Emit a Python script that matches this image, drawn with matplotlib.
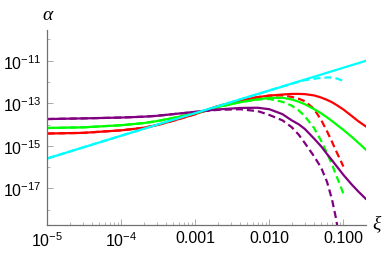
import matplotlib
matplotlib.use("Agg")
import matplotlib.pyplot as plt
import matplotlib.ticker as mticker
import numpy as np

plt.rcParams['font.family'] = ['Liberation Sans', 'DejaVu Sans']
plt.rcParams['mathtext.fontset'] = 'custom'
plt.rcParams['mathtext.rm'] = 'Liberation Sans'
plt.rcParams['mathtext.it'] = 'Liberation Serif:italic'

# xi sample points
xi_grid = [1e-5, 3e-5, 1e-4, 2e-4, 3e-4, 5e-4, 1e-3, 2e-3, 4e-3, 7e-3, 0.01, 0.015,
           0.02, 0.025, 0.03, 0.04, 0.05, 0.06, 0.07, 0.08, 0.1, 0.13, 0.16, 0.2]

# log10(alpha) values
purple_solid = [-13.74, -13.71, -13.67, -13.63, -13.59, -13.51, -13.40, -13.29, -13.22, -13.21,
                -13.28, -13.51, -13.80, -13.99, -14.20, -14.65, -15.02, -15.38, -15.67, -15.93,
                -16.36, -16.82, -17.15, -17.48]
green_solid = [-14.16, -14.13, -14.03, -13.93, -13.84, -13.69, -13.47, -13.18, -12.95, -12.81,
               -12.75, -12.74, -12.82, -12.93, -13.04, -13.27, -13.47, -13.66, -13.83, -13.99,
               -14.25, -14.58, -14.86, -15.17]
red_solid = [-14.42, -14.39, -14.27, -14.15, -14.03, -13.82, -13.51, -13.14, -12.88, -12.71,
             -12.64, -12.59, -12.56, -12.56, -12.57, -12.63, -12.73, -12.84, -12.95, -13.07,
             -13.29, -13.60, -13.85, -14.08]

xi_cyan = [1e-5, 1e-4, 1e-3, 1e-2, 0.1, 0.2]
cyan_solid = [-15.59, -14.52, -13.46, -12.40, -11.33, -11.01]

xi_purple_d = [1e-5, 3e-5, 1e-4, 2e-4, 3e-4, 5e-4, 1e-3, 2e-3, 4e-3, 7e-3, 0.01, 0.015,
               0.02, 0.025, 0.03, 0.04, 0.05, 0.06, 0.07, 0.08, 0.085]
purple_dash = [-13.74, -13.71, -13.67, -13.63, -13.59, -13.51, -13.41, -13.31, -13.28, -13.37,
               -13.55, -13.80, -14.12, -14.48, -14.86, -15.48, -16.02, -16.68, -17.50, -18.45,
               -19.05]

xi_dash = [1e-5, 3e-5, 1e-4, 2e-4, 3e-4, 5e-4, 1e-3, 2e-3, 4e-3, 7e-3, 0.01, 0.015,
           0.02, 0.025, 0.03, 0.04, 0.05, 0.06, 0.07, 0.08, 0.09, 0.1]
green_dash = [-14.16, -14.13, -14.03, -13.93, -13.84, -13.69, -13.47, -13.18, -12.95, -12.82,
              -12.80, -12.93, -13.11, -13.34, -13.60, -14.15, -14.76, -15.33, -15.87, -16.38,
              -16.83, -17.24]
red_dash = [-14.42, -14.39, -14.27, -14.15, -14.03, -13.82, -13.51, -13.14, -12.88, -12.71,
            -12.64, -12.63, -12.70, -12.79, -12.90, -13.26, -13.78, -14.31, -14.80, -15.25,
            -15.63, -15.97]

xi_cyan_d = [1e-5, 1e-4, 1e-3, 1e-2, 0.02, 0.03, 0.04, 0.05, 0.06, 0.07, 0.08, 0.09, 0.1]
cyan_dash = [-15.59, -14.52, -13.46, -12.40, -12.08, -11.92, -11.85, -11.81, -11.79, -11.79,
             -11.83, -11.89, -11.96]

x_tick_vals = [1e-5, 1e-4, 1e-3, 1e-2, 1e-1]
x_tick_labels = [r'$\mathregular{10^{-5}}$', r'$\mathregular{10^{-4}}$', '0.001', '0.010', '0.100']
y_tick_vals = [1e-17, 1e-15, 1e-13, 1e-11]
y_tick_labels = [r'$\mathregular{10^{-17}}$', r'$\mathregular{10^{-15}}$',
                 r'$\mathregular{10^{-13}}$', r'$\mathregular{10^{-11}}$']

fig = plt.figure(figsize=(3.82, 2.55), dpi=100)
ax = fig.add_axes([47.3 / 382, 1 - 225.7 / 255, (365.6 - 47.3) / 382, (225.7 - 31) / 255])

lw = 1.6
dash = (3.2, 1.8)
ax.plot(xi_dash, 10 ** np.array(red_dash), color='#ff0000', lw=lw, dashes=dash)
ax.plot(xi_dash, 10 ** np.array(green_dash), color='#00ff00', lw=lw, dashes=dash)
ax.plot(xi_purple_d, 10 ** np.array(purple_dash), color='#800080', lw=lw, dashes=dash)
ax.plot(xi_cyan_d, 10 ** np.array(cyan_dash), color='#00ffff', lw=lw, dashes=dash)
ax.plot(xi_grid, 10 ** np.array(red_solid), color='#ff0000', lw=lw)
ax.plot(xi_grid, 10 ** np.array(green_solid), color='#00ff00', lw=lw)
ax.plot(xi_grid, 10 ** np.array(purple_solid), color='#800080', lw=lw)
ax.plot(xi_cyan, 10 ** np.array(cyan_solid), color='#00ffff', lw=lw)

ax.set_xscale('log')
ax.set_yscale('log')
ax.set_xlim(1e-5, 10 ** -0.70)
ax.set_ylim(10 ** -18.7, 10 ** -9.56)

ax.xaxis.set_major_locator(mticker.FixedLocator(x_tick_vals))
ax.xaxis.set_major_formatter(mticker.FixedFormatter(x_tick_labels))
ax.xaxis.set_minor_locator(mticker.LogLocator(base=10, subs=np.arange(2, 10)))
ax.xaxis.set_minor_formatter(mticker.NullFormatter())
ax.yaxis.set_major_locator(mticker.FixedLocator(y_tick_vals))
ax.yaxis.set_major_formatter(mticker.FixedFormatter(y_tick_labels))
ax.yaxis.set_minor_locator(mticker.FixedLocator([1e-18, 1e-16, 1e-14, 1e-12, 1e-10]))
ax.yaxis.set_minor_formatter(mticker.NullFormatter())

for s in ['top', 'right']:
    ax.spines[s].set_visible(False)
for s in ['left', 'bottom']:
    ax.spines[s].set_color('#707070')
    ax.spines[s].set_linewidth(0.9)
ax.tick_params(which='both', direction='in', color='#aaaaaa', labelsize=11.5, labelcolor='black')
ax.tick_params(which='major', length=4, width=0.7, pad=4)
ax.tick_params(which='minor', length=2.5, width=0.6)

fig.text(48.5 / 382, 1 - 16 / 255, r'$\alpha$', fontsize=14, ha='center', va='center')
fig.text(377.5 / 382, 1 - 224 / 255, r'$\xi$', fontsize=14, ha='center', va='center')

fig.savefig('out.png', dpi=100)
